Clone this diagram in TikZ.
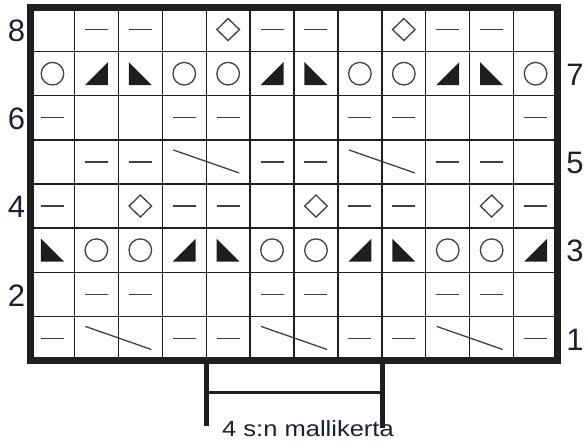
\documentclass[tikz,border=0pt]{standalone}
\usepackage{fontspec}
\setmainfont{Liberation Sans}
\definecolor{ink}{HTML}{1E1E1E}
\definecolor{numink}{HTML}{1C2030}
\begin{document}
\begin{tikzpicture}[x=1pt,y=-1pt,
  gridline/.style={line width=1.3pt, draw=ink},
  frameline/.style={line width=6.5pt, draw=ink},
  sym/.style={line width=1.3pt, draw=ink!85},
  tri/.style={fill=ink},
  bracketv/.style={line width=5pt, draw=ink},
  bracketh/.style={line width=2.5pt, draw=ink},
  rownum/.style={font=\fontsize{31}{31}\selectfont, text=numink, inner sep=0pt},
  caption/.style={font=\fontsize{22}{22}\selectfont, text=numink, inner sep=0pt, anchor=base}
]
\useasboundingbox (0,0) rectangle (587,446);
% grid
\foreach \k in {1,...,11}
  \draw[gridline] ({30.5+\k*43.92},7.5) -- ({30.5+\k*43.92},360.5);
\foreach \k in {1,...,7}
  \draw[gridline] (30.5,{7.5+\k*44.125}) -- (557.5,{7.5+\k*44.125});
% symbols
\foreach \r/\lst in {
  8/{0,1,1,0,3,1,1,0,3,1,1,0},
  7/{2,4,5,2,2,4,5,2,2,4,5,2},
  6/{1,0,0,1,1,0,0,1,1,0,0,1},
  5/{0,1,1,6,0,1,1,6,0,1,1,0},
  4/{1,0,3,1,1,0,3,1,1,0,3,1},
  3/{5,2,2,4,5,2,2,4,5,2,2,4},
  2/{0,1,1,0,0,1,1,0,0,1,1,0},
  1/{1,6,0,1,1,6,0,1,1,6,0,1}}{
  \foreach \s [count=\c] in \lst {
    \pgfmathsetmacro\cx{30.5+(\c-0.5)*43.92}
    \pgfmathsetmacro\cy{7.5+(8.5-\r)*44.125}
    \ifcase\s\relax
    \or \draw[sym] (\cx-11.5,\cy) -- (\cx+11.5,\cy);
    \or \draw[sym] (\cx,\cy) circle[radius=11.3];
    \or \draw[sym] (\cx-11.3,\cy) -- (\cx,\cy-11) -- (\cx+11.3,\cy) -- (\cx,\cy+11) -- cycle;
    \or \fill[tri] (\cx-11.5,\cy+11.5) -- (\cx+11.5,\cy-11.5) -- (\cx+11.5,\cy+11.5) -- cycle;
    \or \fill[tri] (\cx-11.5,\cy-11.5) -- (\cx-11.5,\cy+11.5) -- (\cx+11.5,\cy+11.5) -- cycle;
    \or \draw[sym] (\cx-11,\cy-12) -- (\cx+54.9,\cy+11);
    \fi
  }
}
% frame
\draw[frameline] (30.5,7.5) rectangle (557.5,360.5);
% row numbers
\foreach \r in {8,6,4,2}
  \node[rownum] (L\r) at (16.5,{7.5+(8.5-\r)*44.125+1}) {\r};
\foreach \r in {7,5,3,1}
  \node[rownum] (R\r) at (575,{7.5+(8.5-\r)*44.125+1}) {\r};
% repeat bracket
\coordinate (bl) at (206.2,360.5);
\coordinate (br) at (382.1,360.5);
\coordinate (bld) at (206.2,426);
\coordinate (brd) at (382.1,428);
\coordinate (hl) at (206.2,392.7);
\coordinate (hr) at (382.1,392.7);
\draw[bracketv] (bl) -- (bld);
\draw[bracketv] (br) -- (brd);
\draw[bracketh] (hl) -- (hr);
\node[caption] (cap) at (308,437) {\scalebox{1.16}[1]{4 s:n mallikerta}};
\end{tikzpicture}
\end{document}
